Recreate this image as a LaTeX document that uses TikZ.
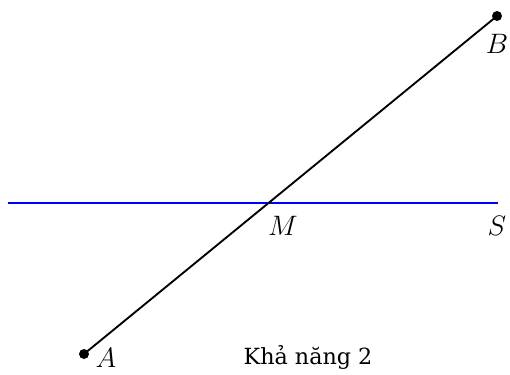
\documentclass[tikz,border=0pt]{standalone}
\usepackage{fontspec}
\usepackage{tikz}
\usetikzlibrary{positioning,calc}
\newfontfamily\capfont{DejaVu Serif}

\begin{document}
\begin{tikzpicture}
        [x=0.015cm,y=-0.015cm,
        every node/.style={inner sep=1pt,font=\fontsize{13}{15}\selectfont},
        dot/.style={fill=black,circle,inner sep=0pt,minimum size=1.5mm},
        seg/.style={line width=0.8pt}]
        \useasboundingbox (0,0) rectangle (510,374);
        \coordinate (A) at (84,354);
        \coordinate (B) at (497,16);
        \coordinate (L) at (8,203);
        \coordinate (S) at (498,203);
        \coordinate (M) at (intersection of A--B and L--S);
        \draw[seg,blue] (L) -- (S);
        \draw[seg] (A) -- (B);
        \node[dot] at (A) {};
        \node[dot] at (B) {};
        \node (lA) at (106,358) {$A$};
        \node (lB) at (497,44) {$B$};
        \node (lM) at (283,226) {$M$};
        \node (lS) at (497,226) {$S$};
        \node[font=\capfont\fontsize{9.5}{11}\selectfont] (cap) at (308,357) {Khả năng 2};
\end{tikzpicture}
\end{document}
